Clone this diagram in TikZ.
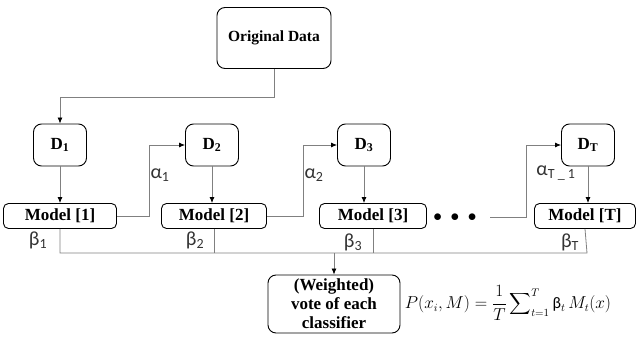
\documentclass[tikz,border=0pt]{standalone}
\usepackage{fontspec}
\usepackage{graphicx}
\setmainfont{Liberation Serif}
\newfontfamily\greekfont{Carlito}
\usetikzlibrary{arrows.meta}

\tikzstyle{block} = [draw=black,line width=0.9pt,rounded corners=8pt,align=center,font=\bfseries]
\tikzstyle{model} = [draw=black,line width=0.9pt,rounded corners=5pt,font=\fontsize{17}{20}\selectfont\bfseries,minimum height=25pt,inner sep=0pt]
\tikzstyle{conn} = [draw=black!50,line width=0.8pt]
\tikzstyle{arr} = [conn,-{Latex[length=6pt,width=5pt,color=black]}]
\tikzstyle{weight} = [text=black!80,font=\fontsize{20}{22}\selectfont\greekfont]

\begin{document}
\begin{tikzpicture}[x=1pt,y=-1pt]
	\useasboundingbox (0,0) rectangle (637,345);

	\node[block,minimum width=114pt,minimum height=61pt,font=\fontsize{15.5}{18}\selectfont\bfseries] (orig) at (274,38) {Original Data};

	\node[block,minimum width=53pt,minimum height=42pt,font=\fontsize{17}{20}\selectfont\bfseries] (d1) at (60,145) {D\textsubscript{1}};
	\node[block,minimum width=53pt,minimum height=42pt,font=\fontsize{17}{20}\selectfont\bfseries] (d2) at (212,145) {D\textsubscript{2}};
	\node[block,minimum width=53pt,minimum height=42pt,font=\fontsize{17}{20}\selectfont\bfseries] (d3) at (364,145) {D\textsubscript{3}};
	\node[block,minimum width=53pt,minimum height=42pt,font=\fontsize{17}{20}\selectfont\bfseries] (dT) at (588,145) {D\textsubscript{T}};

	\node[model,minimum width=113pt] (m1) at (60,216) {Model [1]};
	\node[model,minimum width=105pt] (m2) at (214,216) {Model [2]};
	\node[model,minimum width=107pt] (m3) at (373,216) {Model [3]};
	\node[model,minimum width=101pt] (mT) at (585,216) {Model [T]};

	\node[font=\fontsize{16}{18}\selectfont] (dots) at (455,218) {$\bullet\;\bullet\;\bullet$};

	\node[block,minimum width=132pt,minimum height=58pt,font=\fontsize{17}{19}\selectfont\bfseries] (vote) at (334,304) {(Weighted)\\vote of each\\classifier};
	\node[font=\fontsize{16}{18}\selectfont] (formula) at (508,303) {$P(x_i,M)=\displaystyle\frac{1}{T}\mathop{\vcenter{\hbox{\scalebox{1.5}{$\displaystyle\sum$}}}}\nolimits_{t=1}^{T}\mbox{\greekfont β}_t\,M_t(x)$};

	\coordinate (split) at (274,97);
	\coordinate (dotsend) at (490,217);
	\coordinate (busL) at (60,253);
	\coordinate (busR) at (587,253);

	\draw[arr] (orig.south) -- (split) -| (d1.north);

	\draw[arr] (d1.south) -- (d1.south |- m1.north);
	\draw[arr] (d2.south) -- (d2.south |- m2.north);
	\draw[arr] (d3.south) -- (d3.south |- m3.north);
	\draw[arr] (dT.south) -- (dT.south |- mT.north);

	\draw[arr] (m1.east) -- ++(32,0) |- (d2.west);
	\draw[arr] (m2.east) -- ++(36,0) |- (d3.west);
	\draw[arr] (dotsend) -- ++(36,0) |- (dT.west);

	\draw[conn] (m1.south) -- (busL) -- (busR) -- (mT.south);
	\draw[conn] (m2.south) -- (m2.south |- busL);
	\draw[conn] (m3.south) -- (m3.south |- busL);
	\draw[arr] (vote.north |- busL) -- (vote.north);

	\node[weight] (a1) at (160,175) {α\textsubscript{1}};
	\node[weight] (a2) at (314,175) {α\textsubscript{2}};
	\node[weight] (aT) at (556,173) {α\textsubscript{T \_ 1}};
	\node[weight] (b1) at (38,240) {β\textsubscript{1}};
	\node[weight] (b2) at (195,240) {β\textsubscript{2}};
	\node[weight] (b3) at (353,242) {β\textsubscript{3}};
	\node[weight] (bT) at (570,242) {β\textsubscript{T}};
\end{tikzpicture}
\end{document}
